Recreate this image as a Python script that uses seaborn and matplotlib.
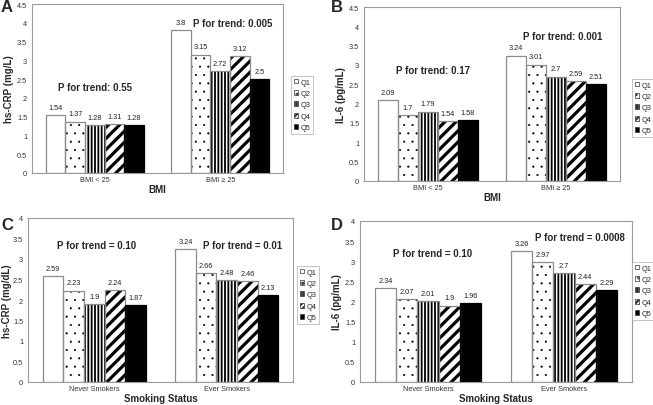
import matplotlib
matplotlib.use("Agg")
import matplotlib.pyplot as plt
import seaborn as sns
import pandas as pd
import numpy as np
from matplotlib.patches import Patch, Rectangle

sns.set_style("white")
plt.rcParams['font.family'] = ['Liberation Sans', 'DejaVu Sans']
plt.rcParams['hatch.linewidth'] = 1.6

quintiles = ["Q1", "Q2", "Q3", "Q4", "Q5"]
bmi_groups = ["BMI < 25", "BMI \u2265 25"]
smoke_groups = ["Never Smokers", "Ever Smokers"]

crp_bmi_low = [1.54, 1.37, 1.28, 1.31, 1.28]
crp_bmi_high = [3.8, 3.15, 2.72, 3.12, 2.5]
il6_bmi_low = [2.09, 1.7, 1.79, 1.54, 1.58]
il6_bmi_high = [3.24, 3.01, 2.7, 2.59, 2.51]
crp_never = [2.59, 2.23, 1.9, 2.24, 1.87]
crp_ever = [3.24, 2.66, 2.48, 2.46, 2.13]
il6_never = [2.34, 2.07, 2.01, 1.9, 1.96]
il6_ever = [3.26, 2.97, 2.7, 2.44, 2.29]

value_labels = {
    "A": [["1.54", "1.37", "1.28", "1.31", "1.28"], ["3.8", "3.15", "2.72", "3.12", "2.5"]],
    "B": [["2.09", "1.7", "1.79", "1.54", "1.58"], ["3.24", "3.01", "2.7", "2.59", "2.51"]],
    "C": [["2.59", "2.23", "1.9", "2.24", "1.87"], ["3.24", "2.66", "2.48", "2.46", "2.13"]],
    "D": [["2.34", "2.07", "2.01", "1.9", "1.96"], ["3.26", "2.97", "2.7", "2.44", "2.29"]],
}

W, H = 653, 406
fig = plt.figure(figsize=(W / 100, H / 100), dpi=100)

faces = ["white", "white", "white", "white", "black"]
hatches = [None, "..", "|||||", "///", None]
hatch_lw = [1.0, 0.3, 1.3, 2.3, 1.0]
leg_hatches = [None, "...", "|||||||", "//////", None]
EDGE = "#8c8c8c"


def make_df(groups, low, high):
    rows = []
    for g, vals in zip(groups, [low, high]):
        for q, v in zip(quintiles, vals):
            rows.append({"group": g, "Quintile": q, "value": v})
    return pd.DataFrame(rows)


panels = [
    dict(key="A", box=(32, 283, 5, 174), groups=bmi_groups, low=crp_bmi_low, high=crp_bmi_high,
         ylim=4.5, ylabel="hs-CRP (mg/L)", xlabel="BMI", lpad=2.5,
         ptext=[("P for trend: 0.55", 0.0, 2.3), ("P for trend: 0.005", 1.1, 4.0)],
         leg=(291, 311, 77, 130)),
    dict(key="B", box=(364, 620, 8, 182), groups=bmi_groups, low=il6_bmi_low, high=il6_bmi_high,
         ylim=4.5, ylabel="IL-6 (pg/mL)", xlabel="BMI", lpad=2.5,
         ptext=[("P for trend: 0.17", 0.04, 2.88), ("P for trend: 0.001", 1.05, 3.75)],
         leg=(632, 649, 80, 125)),
    dict(key="C", box=(28, 293, 219, 383), groups=smoke_groups, low=crp_never, high=crp_ever,
         ylim=4.0, ylabel="hs-CRP (mg/dL)", xlabel="Smoking Status", lpad=1.0,
         ptext=[("P for trend = 0.10", 0.02, 3.35), ("P for trend = 0.01", 1.12, 3.35)],
         leg=(297, 321, 267, 325)),
    dict(key="D", box=(360, 632, 222, 383), groups=smoke_groups, low=il6_never, high=il6_ever,
         ylim=4.0, ylabel="IL-6 (pg/mL)", xlabel="Smoking Status", lpad=2.5,
         ptext=[("P for trend = 0.10", 0.03, 3.21), ("P for trend = 0.0008", 1.12, 3.61)],
         leg=(632, 653, 263, 328)),
]

letter_pos = {"A": (1, 12), "B": (331, 12), "C": (1, 230), "D": (331, 230)}

for p in panels:
    l, r, t, b = p["box"]
    ax = fig.add_axes([l / W, 1 - b / H, (r - l) / W, (b - t) / H])
    df = make_df(p["groups"], p["low"], p["high"])
    sns.barplot(data=df, x="group", y="value", hue="Quintile", hue_order=quintiles,
                palette=["white"] * 5, width=0.78, edgecolor="black", linewidth=0,
                ax=ax, legend=False, saturation=1)
    for i, cont in enumerate(ax.containers):
        for j, bar in enumerate(cont):
            bar.set_facecolor(faces[i])
            bar.set_edgecolor("black")
            bar.set_linewidth(0)
            if hatches[i]:
                bar.set_hatch(hatches[i])
                try:
                    bar.set_hatch_linewidth(hatch_lw[i])
                except Exception:
                    pass
            ax.add_patch(Rectangle((bar.get_x(), 0), bar.get_width(), bar.get_height(),
                                   fill=False, edgecolor=EDGE if i < 4 else "black",
                                   linewidth=0.9, zorder=bar.get_zorder() + 0.1))
            x = bar.get_x() + bar.get_width() / 2
            ax.text(x, bar.get_height() + p["ylim"] * 0.025, value_labels[p["key"]][j][i],
                    ha="center", va="bottom", fontsize=5.3, color="#222222")
    ax.set_ylim(0, p["ylim"])
    ax.set_xlim(-0.5, 1.5)
    ticks = np.arange(0, p["ylim"] + 0.01, 0.5)
    ax.set_yticks(ticks)
    ax.set_yticklabels([f"{v:g}" for v in ticks])
    ax.tick_params(axis="both", labelsize=5.3, colors="#333333", length=2, width=0.6, pad=1.5)
    ax.tick_params(axis="x", length=0, pad=2)
    ax.set_xticks([-0.5, 0.5, 1.5], minor=True)
    ax.tick_params(axis="x", which="minor", length=2, width=0.6, color="#888888")
    for s in ax.spines.values():
        s.set_color("#9a9a9a")
        s.set_linewidth(0.8)
    ax.set_ylabel(p["ylabel"], fontsize=7, fontweight="bold", labelpad=p["lpad"])
    ax.set_xlabel(p["xlabel"], fontsize=7, fontweight="bold", labelpad=1)
    for txt, xx, yy in p["ptext"]:
        ax.text(xx, yy, txt, ha="center", va="center", fontsize=7, fontweight="bold")

    handles = [Patch(facecolor=faces[i], edgecolor="#333333", hatch=leg_hatches[i], linewidth=0.5)
               for i in range(5)]
    ll, lr, lt, lb = p["leg"]
    leg = fig.legend(handles, quintiles, loc="upper left",
                     bbox_to_anchor=(ll / W, 1 - lt / H), fontsize=5.3,
                     frameon=True, fancybox=False, handlelength=0.6, handleheight=0.6,
                     handletextpad=0.3, labelspacing=0.6, borderpad=0.35, borderaxespad=0)
    leg.get_frame().set_edgecolor("#aaaaaa")
    leg.get_frame().set_linewidth(0.6)

    lx, ly = letter_pos[p["key"]]
    fig.text(lx / W, 1 - ly / H, p["key"], fontsize=12, fontweight="bold", ha="left", va="baseline")

fig.savefig("out.png", dpi=100)
